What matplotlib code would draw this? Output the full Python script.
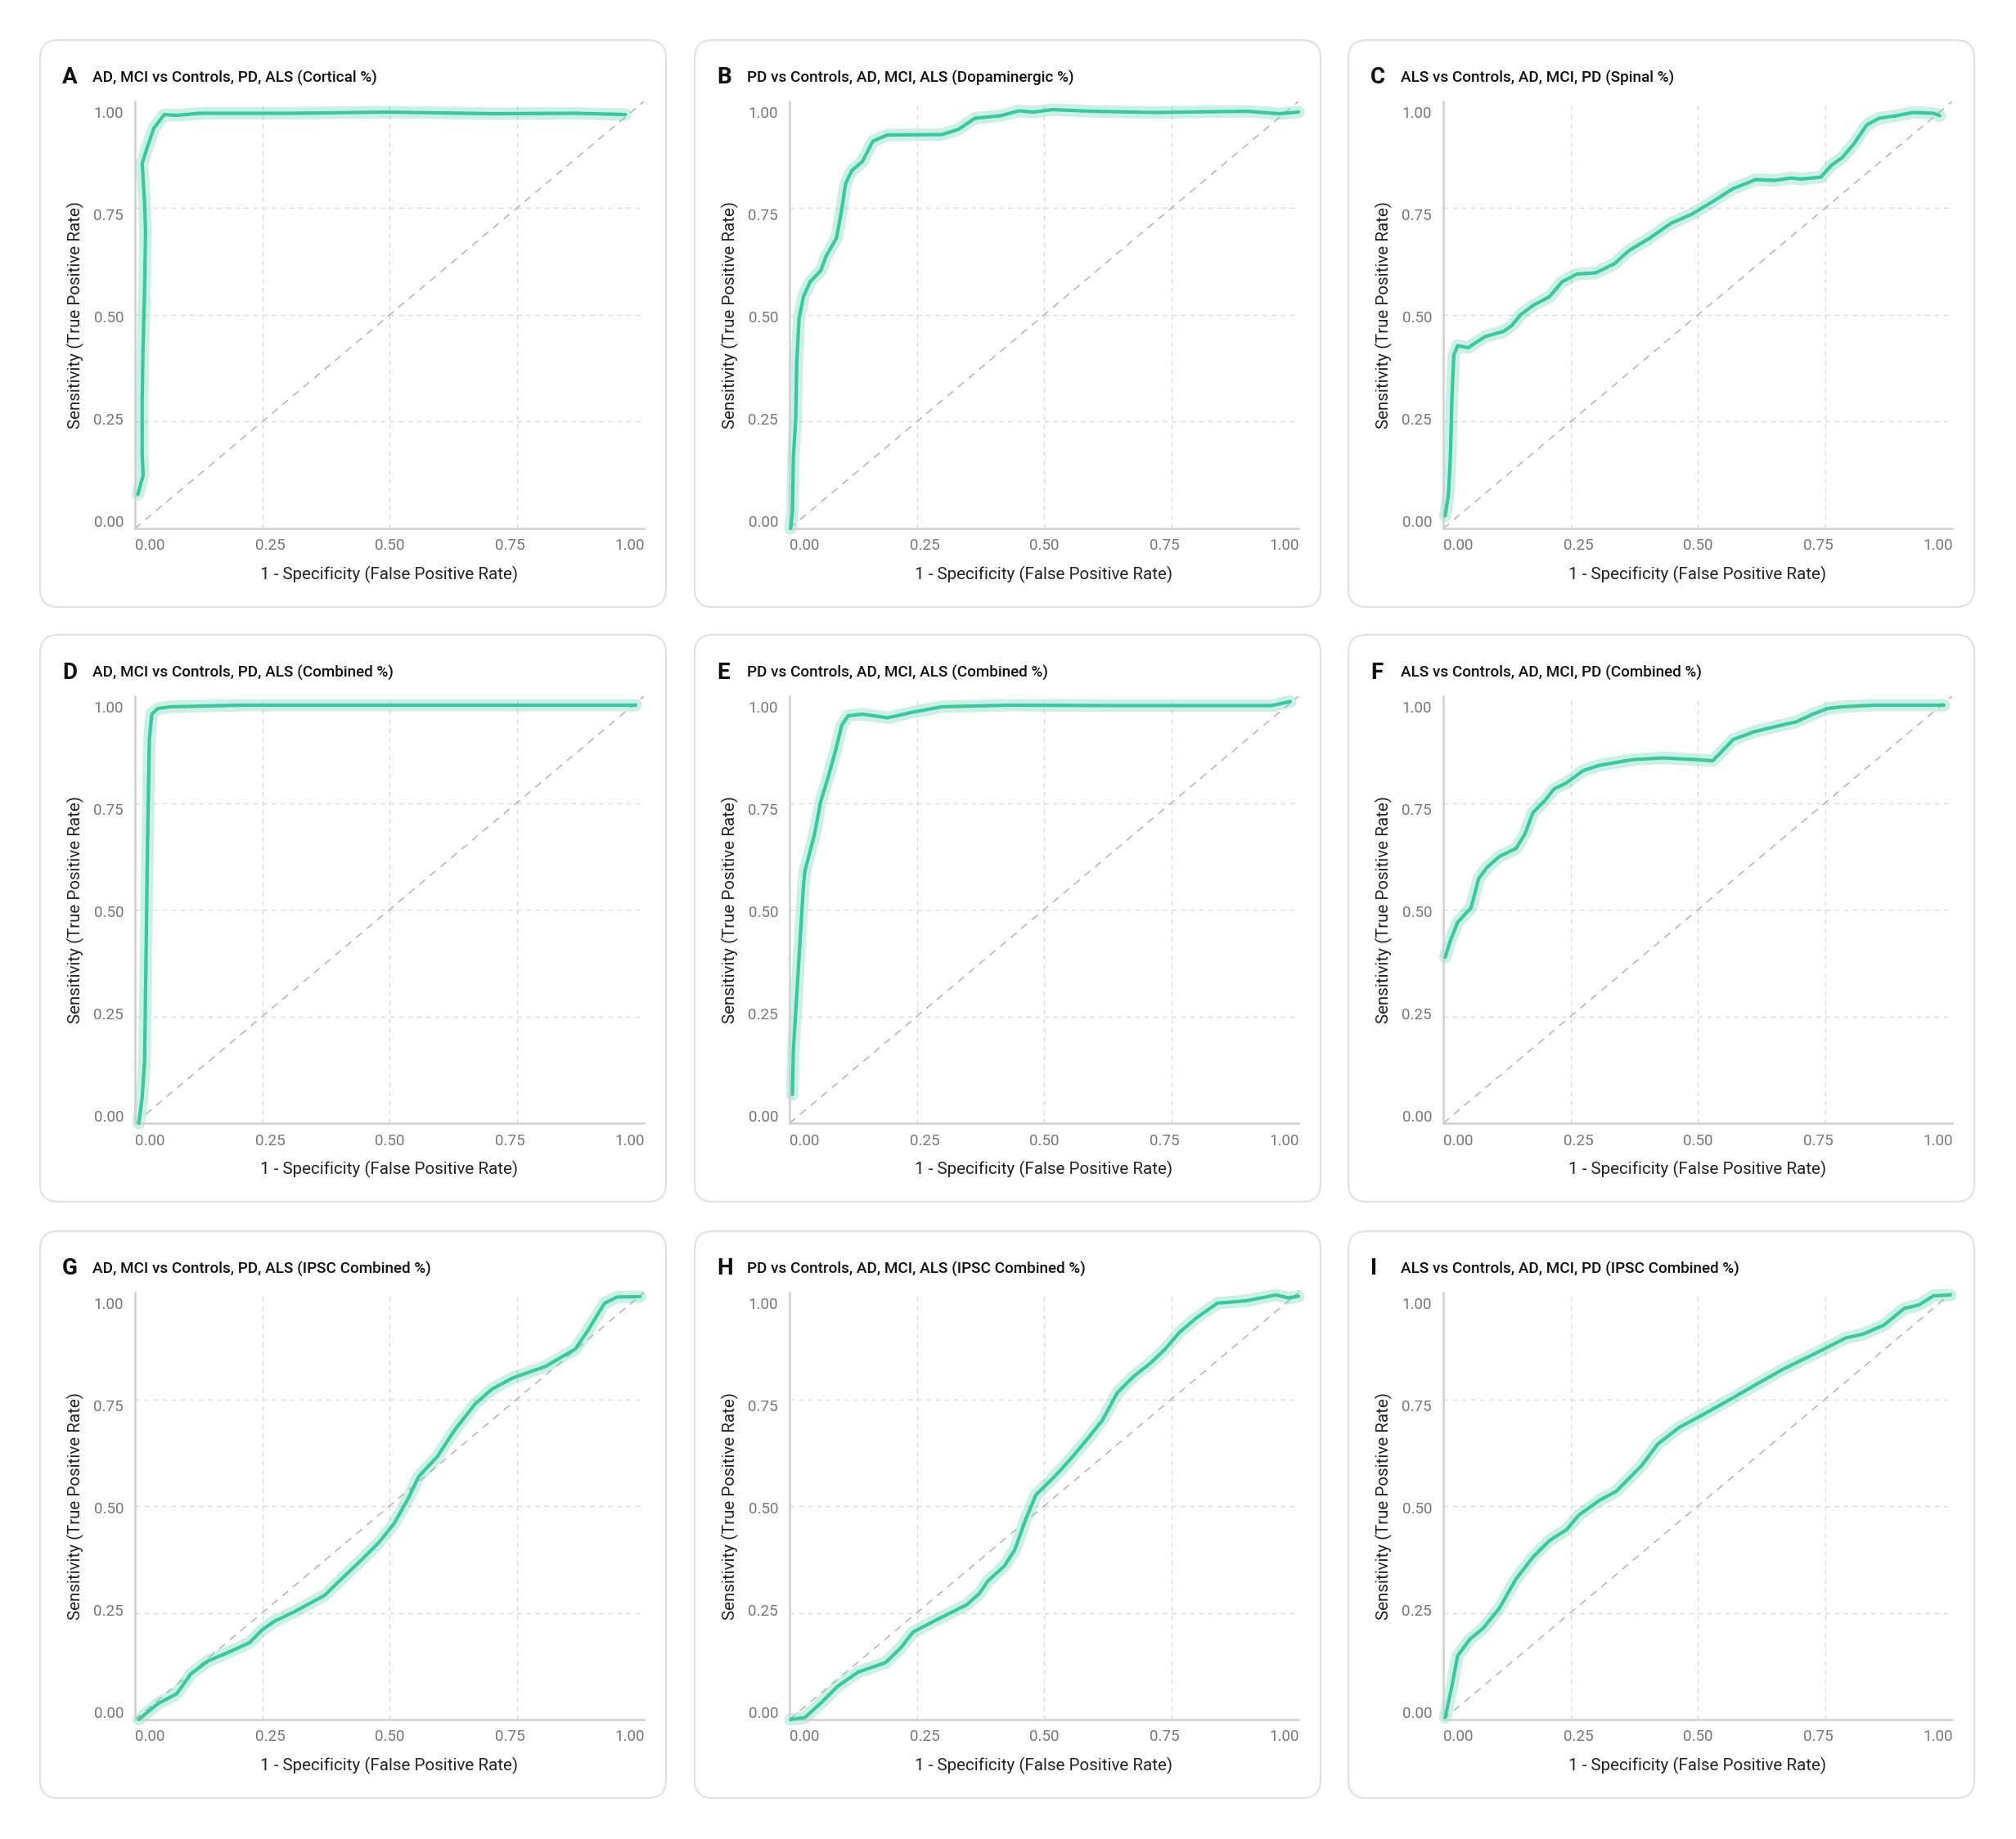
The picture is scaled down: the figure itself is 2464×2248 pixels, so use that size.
import matplotlib
matplotlib.use("Agg")
import matplotlib.pyplot as plt
from matplotlib.patches import FancyBboxPatch

plt.rcParams['font.family'] = ['Roboto', 'DejaVu Sans']

W, H = 2464, 2248

# ROC curves (FPR, TPR)
a_fpr = [-0.026, -0.015, -0.017, -0.017, -0.015, -0.012, -0.010, -0.012, -0.017, -0.006, 0.007, 0.029, 0.055, 0.103, 0.30, 0.495, 0.713, 0.887, 0.991]
a_tpr = [0.065, 0.112, 0.165, 0.30, 0.433, 0.567, 0.71, 0.78, 0.875, 0.915, 0.96, 0.994, 0.992, 0.997, 0.997, 1.0, 0.996, 0.997, 0.994]

b_fpr = [-0.030, -0.026, -0.024, -0.019, -0.017, -0.012, -0.003, 0.011, 0.033, 0.044, 0.066, 0.077, 0.085, 0.098, 0.120, 0.142, 0.172, 0.286, 0.321, 0.355, 0.408, 0.447, 0.477, 0.517, 0.599, 0.730, 0.922, 0.99, 1.03]
b_tpr = [-0.018, 0.022, 0.156, 0.254, 0.388, 0.496, 0.549, 0.585, 0.612, 0.647, 0.692, 0.763, 0.825, 0.857, 0.879, 0.929, 0.944, 0.945, 0.958, 0.985, 0.991, 1.003, 1.0, 1.006, 1.002, 0.999, 1.002, 0.996, 1.0]

c_fpr = [-0.028, -0.021, -0.017, -0.014, -0.010, -0.002, 0.020, 0.055, 0.094, 0.111, 0.129, 0.155, 0.190, 0.216, 0.247, 0.286, 0.325, 0.355, 0.399, 0.443, 0.486, 0.530, 0.573, 0.620, 0.660, 0.695, 0.713, 0.756, 0.778, 0.800, 0.826, 0.852, 0.878, 0.913, 0.948, 0.991, 1.004]
c_tpr = [0.013, 0.067, 0.165, 0.30, 0.406, 0.429, 0.424, 0.451, 0.464, 0.478, 0.504, 0.527, 0.549, 0.585, 0.604, 0.607, 0.629, 0.661, 0.692, 0.728, 0.75, 0.781, 0.813, 0.835, 0.833, 0.839, 0.836, 0.841, 0.870, 0.888, 0.924, 0.969, 0.985, 0.991, 0.999, 0.997, 0.991]

d_fpr = [-0.024, -0.017, -0.012, -0.009, -0.006, -0.002, 0.003, 0.016, 0.042, 0.190, 1.013]
d_tpr = [-0.018, 0.045, 0.134, 0.384, 0.652, 0.920, 0.982, 0.996, 1.0, 1.004, 1.004]

e_fpr = [-0.026, -0.024, -0.017, -0.010, -0.003, 0.0, 0.020, 0.033, 0.049, 0.064, 0.077, 0.090, 0.120, 0.173, 0.225, 0.286, 0.425, 0.643, 0.974, 1.013]
e_tpr = [0.052, 0.161, 0.295, 0.429, 0.562, 0.598, 0.688, 0.768, 0.830, 0.893, 0.955, 0.978, 0.982, 0.973, 0.987, 1.0, 1.004, 1.003, 1.003, 1.013]

f_fpr = [-0.028, -0.017, -0.002, 0.026, 0.042, 0.059, 0.085, 0.120, 0.138, 0.155, 0.181, 0.199, 0.225, 0.260, 0.294, 0.364, 0.425, 0.495, 0.530, 0.547, 0.573, 0.617, 0.669, 0.704, 0.739, 0.770, 0.800, 0.869, 1.013]
f_tpr = [0.388, 0.429, 0.473, 0.509, 0.580, 0.607, 0.634, 0.654, 0.688, 0.741, 0.772, 0.799, 0.814, 0.844, 0.857, 0.871, 0.875, 0.871, 0.868, 0.888, 0.920, 0.939, 0.954, 0.963, 0.982, 0.996, 1.0, 1.004, 1.004]

g_fpr = [-0.024, -0.006, 0.016, 0.055, 0.085, 0.120, 0.164, 0.207, 0.233, 0.260, 0.303, 0.364, 0.399, 0.443, 0.477, 0.508, 0.538, 0.560, 0.599, 0.634, 0.678, 0.713, 0.756, 0.826, 0.887, 0.913, 0.948, 0.974, 1.022]
g_tpr = [-0.018, 0.0, 0.021, 0.045, 0.094, 0.125, 0.147, 0.170, 0.201, 0.223, 0.247, 0.286, 0.326, 0.375, 0.415, 0.460, 0.522, 0.576, 0.625, 0.688, 0.754, 0.790, 0.817, 0.846, 0.888, 0.933, 1.0, 1.015, 1.016]

h_fpr = [-0.030, 0.0, 0.033, 0.068, 0.111, 0.168, 0.199, 0.226, 0.270, 0.338, 0.364, 0.382, 0.416, 0.438, 0.460, 0.482, 0.521, 0.556, 0.591, 0.621, 0.652, 0.686, 0.721, 0.752, 0.782, 0.817, 0.861, 0.922, 0.983, 1.009, 1.030]
h_tpr = [-0.018, -0.013, 0.022, 0.063, 0.098, 0.121, 0.156, 0.196, 0.223, 0.263, 0.290, 0.321, 0.357, 0.397, 0.469, 0.531, 0.576, 0.621, 0.670, 0.714, 0.781, 0.821, 0.853, 0.888, 0.929, 0.964, 1.0, 1.006, 1.020, 1.013, 1.017]

i_fpr = [-0.028, -0.015, -0.002, 0.024, 0.051, 0.085, 0.120, 0.155, 0.190, 0.225, 0.251, 0.294, 0.329, 0.382, 0.416, 0.460, 0.503, 0.564, 0.625, 0.678, 0.756, 0.808, 0.843, 0.887, 0.930, 0.961, 0.991, 1.026]
i_tpr = [-0.013, 0.058, 0.138, 0.179, 0.205, 0.254, 0.326, 0.379, 0.420, 0.446, 0.482, 0.518, 0.540, 0.603, 0.656, 0.696, 0.723, 0.763, 0.804, 0.839, 0.884, 0.915, 0.924, 0.946, 0.987, 0.996, 1.018, 1.02]

letters = ['A', 'B', 'C', 'D', 'E', 'F', 'G', 'H', 'I']
titles = [
    'AD, MCI vs Controls, PD, ALS (Cortical %)',
    'PD vs Controls, AD, MCI, ALS (Dopaminergic %)',
    'ALS vs Controls, AD, MCI, PD (Spinal %)',
    'AD, MCI vs Controls, PD, ALS (Combined %)',
    'PD vs Controls, AD, MCI, ALS (Combined %)',
    'ALS vs Controls, AD, MCI, PD (Combined %)',
    'AD, MCI vs Controls, PD, ALS (IPSC Combined %)',
    'PD vs Controls, AD, MCI, ALS (IPSC Combined %)',
    'ALS vs Controls, AD, MCI, PD (IPSC Combined %)',
]
curves = [(a_fpr, a_tpr), (b_fpr, b_tpr), (c_fpr, c_tpr),
          (d_fpr, d_tpr), (e_fpr, e_tpr), (f_fpr, f_tpr),
          (g_fpr, g_tpr), (h_fpr, h_tpr), (i_fpr, i_tpr)]
ticks = [0, 0.25, 0.5, 0.75, 1.0]
tick_labels = ['0.00', '0.25', '0.50', '0.75', '1.00']

LINE = '#3cc79e'
HALO = '#5fd3b0'
GRID = '#dadada'
SPINE = '#d0d0d0'

fig = plt.figure(figsize=(W / 100, H / 100), dpi=100)
fig.patch.set_facecolor('white')

# background axes in pixel units for the cards
bg = fig.add_axes([0, 0, 1, 1])
bg.set_xlim(0, W)
bg.set_ylim(H, 0)
bg.axis('off')

col_left = [49, 849, 1648]
row_top = [49, 776, 1505]
card_w, card_h = 765, 693


def px_rect(x0, y0, x1, y1):
    return [x0 / W, 1 - y1 / H, (x1 - x0) / W, (y1 - y0) / H]


for k in range(9):
    r, c = divmod(k, 3)
    cx, cy = col_left[c], row_top[r]
    bg.add_patch(FancyBboxPatch((cx, cy), card_w, card_h,
                                boxstyle='round,pad=0,rounding_size=22',
                                facecolor='white', edgecolor='#e2e2e2', lw=1.6))

    fig.text((cx + 27) / W, 1 - (cy + 46) / H, letters[k], fontsize=20,
             fontweight='bold', va='center', ha='left', color='#111111')
    fig.text((cx + 64) / W, 1 - (cy + 46) / H, titles[k], fontsize=13.6,
             fontweight='medium', va='center', ha='left', color='#111111')

    ax = fig.add_axes(px_rect(cx + 116, cy + 75, cx + 738, cy + 597))
    ax.set_xlim(-0.032, 1.030)
    ax.set_ylim(-0.018, 1.026)
    for s in ['top', 'right']:
        ax.spines[s].set_visible(False)
    for s in ['left', 'bottom']:
        ax.spines[s].set_color(SPINE)
        ax.spines[s].set_linewidth(1.8)

    for f in [0.25, 0.5, 0.75]:
        ax.plot([f, f], [0, 1], transform=ax.transAxes, color=GRID, lw=1.0,
                ls=(0, (4, 4)), zorder=0)
        ax.plot([0, 1], [f, f], transform=ax.transAxes, color=GRID, lw=1.0,
                ls=(0, (4, 4)), zorder=0)
    ax.plot([0, 1], [0, 1], transform=ax.transAxes, color='#b3b3b3', lw=1.1,
            ls=(0, (6, 5)), zorder=1)

    fpr, tpr = curves[k]
    ax.plot(fpr, tpr, color=HALO, alpha=0.32, lw=11, solid_capstyle='round',
            solid_joinstyle='round', zorder=2, clip_on=False)
    ax.plot(fpr, tpr, color=LINE, lw=3.0, solid_capstyle='round',
            solid_joinstyle='round', zorder=3, clip_on=False)

    ax.set_xticks(ticks)
    ax.set_xticklabels(tick_labels)
    ax.set_yticks(ticks)
    ax.set_yticklabels(tick_labels)
    ax.tick_params(length=0, labelsize=13.5, labelcolor='#777777')
    ax.tick_params(axis='x', pad=9)
    ax.tick_params(axis='y', pad=10)
    ax.set_xlabel('1 - Specificity (False Positive Rate)', fontsize=14.8,
                  color='#222222', labelpad=11)
    ax.set_ylabel('Sensitivity (True Positive Rate)', fontsize=14.8,
                  color='#222222', labelpad=8)

fig.savefig('out.png', dpi=100, facecolor='white')
